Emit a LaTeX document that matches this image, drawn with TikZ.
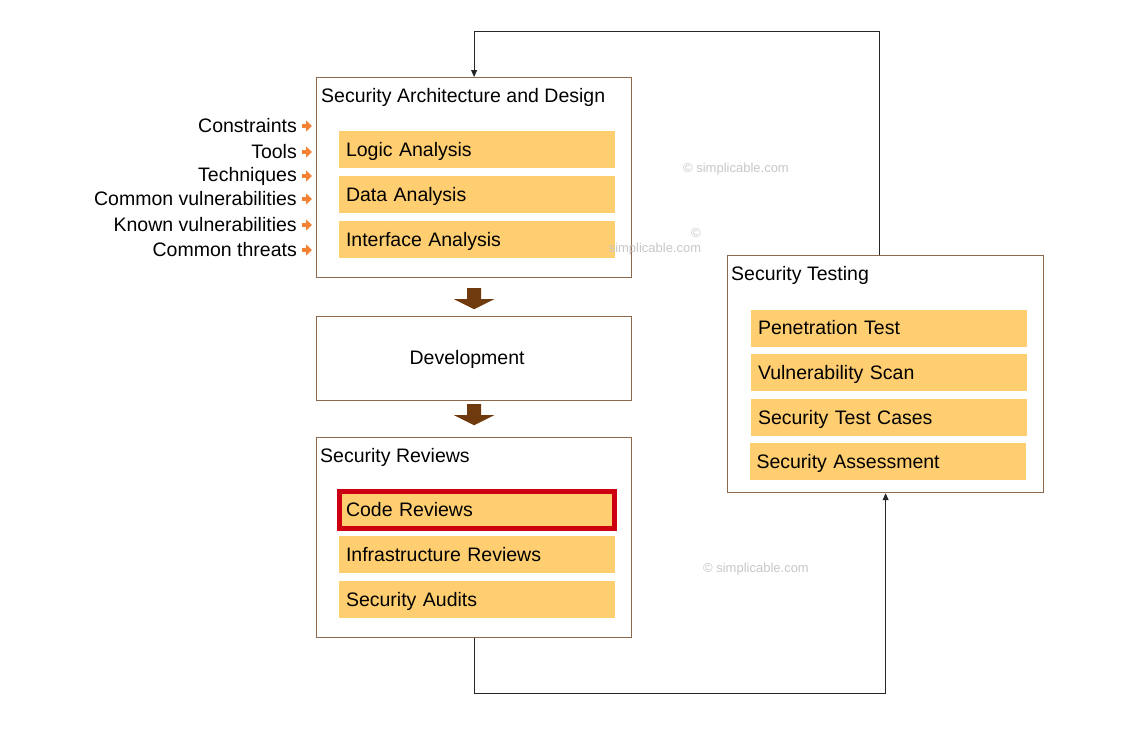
\documentclass[tikz,border=0pt]{standalone}
\usepackage{fontspec}
\setmainfont{Liberation Sans}
\usetikzlibrary{arrows.meta}
\definecolor{boxline}{RGB}{140,104,76}
\definecolor{barfill}{RGB}{255,206,112}
\definecolor{arrowbrown}{RGB}{110,58,14}
\definecolor{tipsorange}{RGB}{245,130,50}
\definecolor{codered}{RGB}{204,0,17}

\begin{document}
\begin{tikzpicture}
[x=1pt,y=-1pt,%
  every node/.style={font=\fontsize{19.5}{22}\selectfont},%
  stage/.style={draw=boxline,line width=1.2pt,anchor=north west,inner sep=0pt},%
  bar/.style={fill=barfill,text width=262pt,inner xsep=7pt,minimum height=37pt,
    text depth=1pt,align=left},%
  stagetitle/.style={anchor=west,inner sep=0pt},%
  input/.style={anchor=east,inner sep=0pt},%
  link/.style={draw=black!85,line width=0.9pt,-{Triangle[length=7pt,width=6pt]}},%
  inarrow/.style={draw=tipsorange,line width=4pt,-{Triangle[length=6pt,width=11pt]}},%
  wmark/.style={text=black!22,font=\fontsize{13}{15}\selectfont,inner sep=0pt},%
  pics/bigdown/.style={code={\fill[arrowbrown] (-7,0) -- (7,0) -- (7,11) -- (20,11)
    -- (0,21) -- (-20,11) -- (-7,11) -- cycle;}}]
\useasboundingbox (0,0) rectangle (1126,737);
% stages
\node[stage,minimum width=315pt,minimum height=200pt] (sad) at (316,77) {};
\node[stage,minimum width=315pt,minimum height=84pt] (dev) at (316,316) {};
\node[stage,minimum width=315pt,minimum height=200pt] (rev) at (316,437) {};
\node[stage,minimum width=316pt,minimum height=237pt] (test) at (727,255) {};
\node at ([xshift=-7pt,yshift=-1pt]dev.center) {Development};
\node[stagetitle] (sadtitle) at (321,97) {Security Architecture and Design};
\node[stagetitle] (revtitle) at (320,457) {Security Reviews};
\node[stagetitle] (testtitle) at (731,275) {Security Testing};
% design activities
\node[bar] (logic) at (477,149.5) {Logic Analysis};
\node[bar] (data) at (477,194.5) {Data Analysis};
\node[bar] (iface) at (477,239.5) {Interface Analysis};
% reviews
\node[bar,draw=codered,line width=5pt,text width=262pt,inner xsep=6.5pt] (code) at (477,510) {Code Reviews};
\node[bar] (infra) at (477,554.5) {Infrastructure Reviews};
\node[bar] (audit) at (477,599.5) {Security Audits};
% testing
\node[bar] (pen) at (889,328) {Penetration Test};
\node[bar] (scan) at (889,372.5) {Vulnerability Scan};
\node[bar] (cases) at (889,417.5) {Security Test Cases};
\node[bar] (assess) at (887.5,461.5) {Security Assessment};
% inputs
\node[input] (c1) at (297,126) {Constraints};
\node[input] (c2) at (297,152) {Tools};
\node[input] (c3) at (297,176) {Techniques};
\node[input] (c4) at (297,199) {Common vulnerabilities};
\node[input] (c5) at (297,225) {Known vulnerabilities};
\node[input] (c6) at (297,250) {Common threats};
\foreach \c in {c1,c2,c3,c4,c5,c6}
  \draw[inarrow] ([xshift=5pt]\c.east) -- ([xshift=15pt]\c.east);
% flow
\pic at ([yshift=-10pt]sad.south) {bigdown};
\pic at ([yshift=-3pt]dev.south) {bigdown};
\draw[link] ([xshift=-6pt]test.north) -- ++(0,-224) -| (sad.north);
\draw[link] (rev.south) -- ++(0,55) -| (test.south);
% watermarks
\node[wmark] (wm1) at (736,169) {\textcopyright\ simplicable.com};
\node[wmark] (wm2) at (696,233) {\textcopyright};
\node[wmark] (wm3) at (655,249) {simplicable.com};
\node[wmark] (wm4) at (756,569) {\textcopyright\ simplicable.com};
\end{tikzpicture}
\end{document}
